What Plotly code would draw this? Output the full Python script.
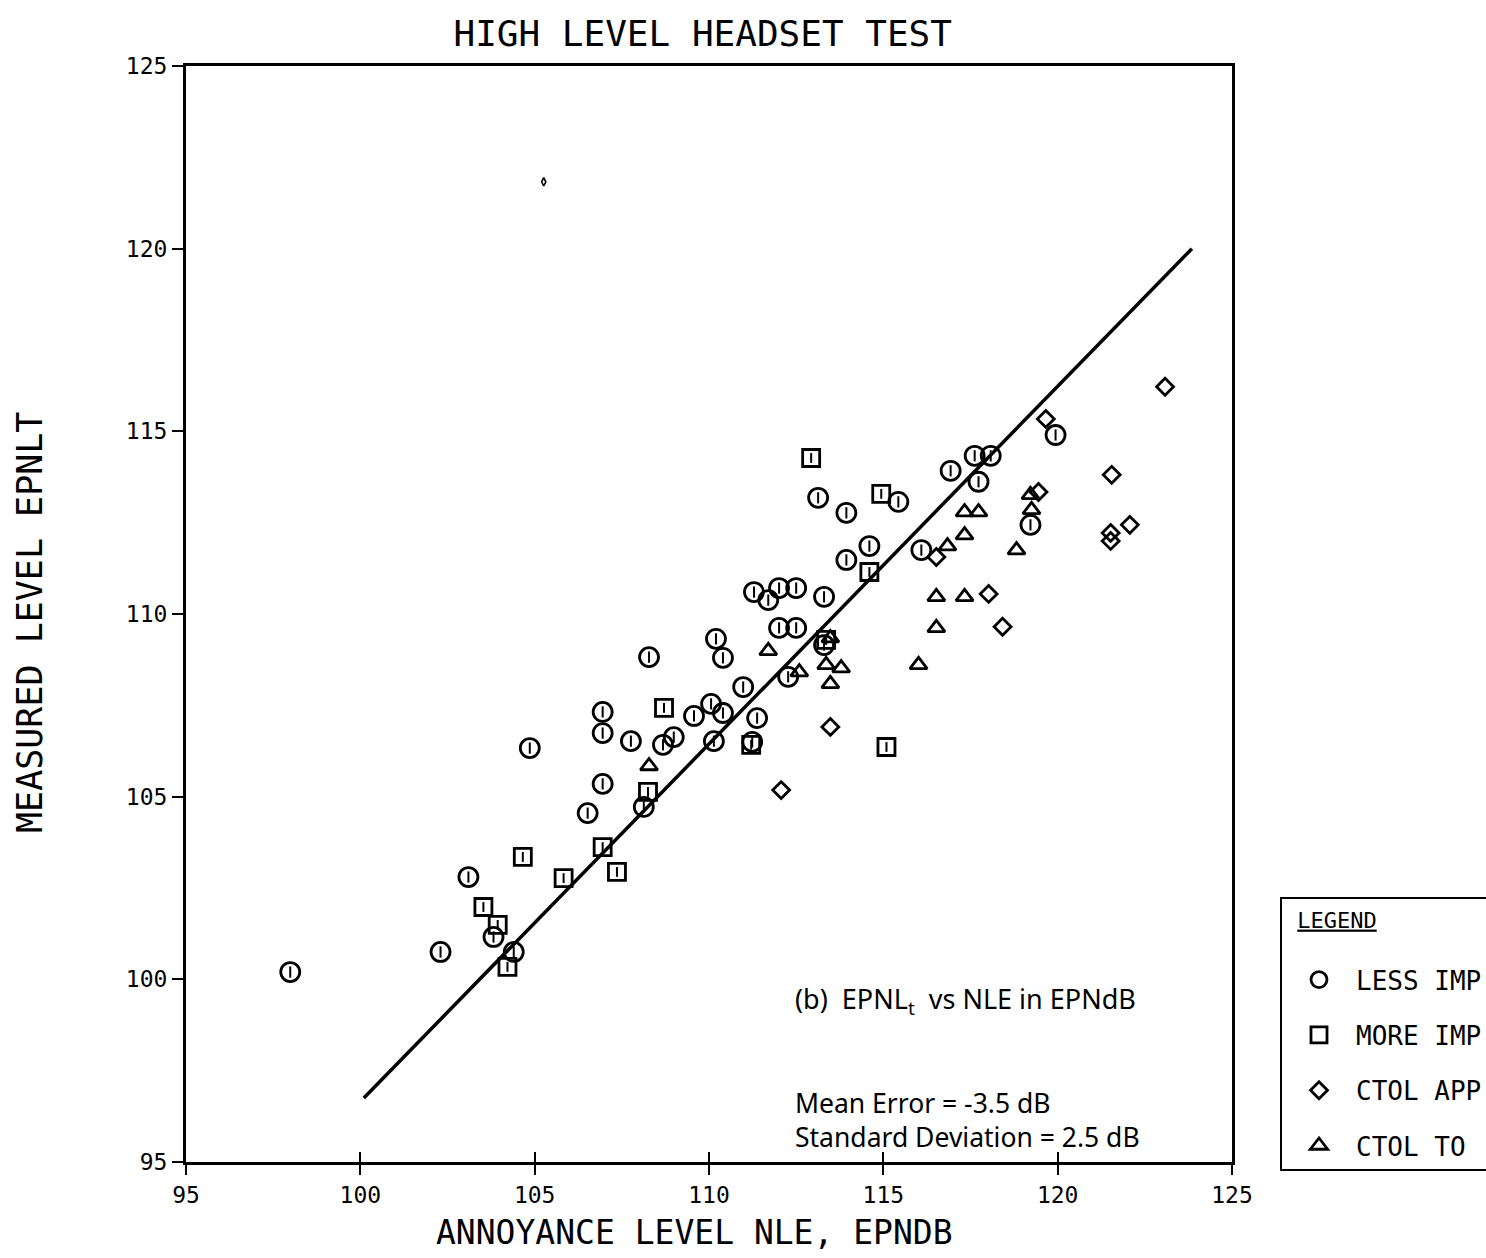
import plotly.graph_objects as go

# ---------------- data ----------------
less_x = [97.99, 102.30, 103.10, 103.82, 104.40, 104.86, 106.52, 106.95, 106.95, 106.95,
          107.76, 108.28, 108.13, 108.68, 108.99, 109.57, 110.06, 110.20, 110.40, 110.40,
          110.14, 110.98, 111.29, 111.38, 111.70, 112.01, 112.50, 112.01, 112.50, 112.27,
          111.24, 113.13, 113.94, 113.30, 113.30, 113.94, 114.60, 115.43, 116.09, 116.93,
          117.62, 118.08, 117.73, 119.22, 119.94]
less_y = [100.20, 100.75, 102.80, 101.16, 100.75, 106.33, 104.55, 105.35, 107.32, 106.74,
          106.52, 108.82, 104.72, 106.42, 106.63, 107.21, 107.54, 109.32, 108.80, 107.29,
          106.52, 108.00, 110.60, 107.15, 110.38, 110.71, 110.71, 109.62, 109.62, 108.28,
          106.50, 113.18, 112.77, 110.47, 109.15, 111.48, 111.86, 113.07, 111.75, 113.92,
          114.33, 114.33, 113.62, 112.44, 114.90]

more_x = [104.22, 103.53, 103.94, 104.66, 105.83, 106.95, 107.36, 108.25, 108.71, 111.21,
          112.93, 114.94, 114.60, 115.09, 113.36]
more_y = [100.34, 101.98, 101.49, 103.35, 102.77, 103.62, 102.94, 105.13, 107.43, 106.42,
          114.27, 113.29, 111.15, 106.36, 109.29]

app_x = [112.07, 113.48, 116.52, 118.02, 118.42, 119.45, 119.66, 121.55, 121.52, 121.52,
         122.07, 123.08]
app_y = [105.18, 106.91, 111.56, 110.55, 109.65, 113.34, 115.34, 113.81, 112.22, 112.00,
         112.44, 116.22]

to_x = [108.28, 111.70, 112.59, 113.48, 113.36, 113.79, 113.48, 116.01, 116.52, 116.52,
        117.33, 116.84, 117.33, 117.33, 117.73, 118.82, 119.22, 119.25]
to_y = [105.84, 108.99, 108.41, 109.34, 108.61, 108.52, 108.09, 108.61, 109.62, 110.47,
        110.47, 111.86, 112.16, 112.79, 112.79, 111.75, 113.26, 112.85]

fit_x = [100.1, 123.85]
fit_y = [96.75, 120.0]

stray_x = [105.26]
stray_y = [121.83]

x_ticks = [95, 100, 105, 110, 115, 120, 125]
y_ticks = [95, 100, 105, 110, 115, 120, 125]

series_names = ["LESS IMP", "MORE IMP", "CTOL APP", "CTOL TO"]

# ---------------- styling ----------------
PLOT_FONT = "DejaVu Sans Mono"
NOTE_FONT = "Noto Sans"
INK = "black"
NB = "\u00a0"
W, H = 1486, 1258

fig = go.Figure()

marker_specs = [
    (less_x, less_y, "circle-open", 19, series_names[0]),
    (more_x, more_y, "square-open", 17, series_names[1]),
    (app_x, app_y, "diamond-open", 13, series_names[2]),
    (to_x, to_y, "triangle-up-open", 15, series_names[3]),
]

for i, (xs, ys, sym, sz, name) in enumerate(marker_specs):
    fig.add_trace(go.Scatter(
        x=xs, y=ys, mode="markers", name=name,
        legendgroup=f"g{i}",
        marker=dict(symbol=sym, size=sz, color=INK, line=dict(color=INK, width=2.8)),
    ))

# small inner ticks of the plotter symbols
for xs, ys, sz in [(less_x, less_y, 8), (more_x, more_y, 7)]:
    fig.add_trace(go.Scatter(
        x=xs, y=ys, mode="markers", showlegend=False, hoverinfo="skip",
        marker=dict(symbol="line-ns-open", size=sz, color=INK, line=dict(color=INK, width=2)),
    ))

fig.add_trace(go.Scatter(
    x=stray_x, y=stray_y, mode="markers", showlegend=False,
    marker=dict(symbol="diamond-tall-open", size=6, color=INK, line=dict(color=INK, width=1.6)),
))

fig.add_trace(go.Scatter(
    x=fit_x, y=fit_y, mode="lines", showlegend=False,
    line=dict(color=INK, width=3.5), xaxis="x2",
))

fig.update_layout(
    width=W, height=H,
    margin=dict(l=186, r=254, t=66, b=96),
    paper_bgcolor="white", plot_bgcolor="white",
    font=dict(family=PLOT_FONT, color=INK),
    showlegend=True,
    title=dict(text="HIGH LEVEL HEADSET TEST", x=0.494, xref="paper", xanchor="center",
               y=1 - 33 / H, yref="container", yanchor="middle",
               font=dict(family=PLOT_FONT, size=36, color=INK)),
    xaxis=dict(range=[95, 125], tickvals=x_ticks, ticktext=[str(v) for v in x_ticks],
               showgrid=False, zeroline=False, showline=True, linecolor=INK, linewidth=3,
               mirror=True, ticks="outside", ticklen=10, tickwidth=2.2, tickcolor=INK,
               tickfont=dict(family=PLOT_FONT, size=23, color=INK)),
    xaxis2=dict(range=[95, 125], overlaying="x", anchor="y", tickvals=x_ticks,
                showticklabels=False, showgrid=False, zeroline=False, showline=False,
                ticks="inside", ticklen=10, tickwidth=2.2, tickcolor=INK),
    yaxis=dict(range=[95, 125], tickvals=y_ticks, ticktext=[str(v) for v in y_ticks],
               showgrid=False, zeroline=False, showline=True, linecolor=INK, linewidth=3,
               mirror=True, ticks="outside", ticklen=11, tickwidth=2.2, tickcolor=INK,
               tickfont=dict(family=PLOT_FONT, size=23, color=INK)),
    legend=dict(
        xref="container", yref="container",
        x=1280 / W, xanchor="left",
        y=1 - 897 / H, yanchor="top",
        bordercolor=INK, borderwidth=2, bgcolor="white",
        title=dict(text=NB + "<u>LEGEND</u><br> ", font=dict(family=PLOT_FONT, size=22, color=INK)),
        font=dict(family=PLOT_FONT, size=26, color=INK),
        traceorder="grouped", tracegroupgap=18.5, itemwidth=64,
    ),
)

# axis titles
fig.add_annotation(text="ANNOYANCE LEVEL NLE, EPNDB", xref="paper", yref="paper",
                   x=(694 - 186) / 1046, y=(1162 - 1232) / 1096, xanchor="center", yanchor="middle",
                   showarrow=False, font=dict(family=PLOT_FONT, size=33, color=INK))
fig.add_annotation(text="MEASURED LEVEL EPNLT", xref="paper", yref="paper", textangle=-90,
                   x=(30 - 186) / 1046, y=(1162 - 623) / 1096, xanchor="center", yanchor="middle",
                   showarrow=False, font=dict(family=PLOT_FONT, size=35, color=INK))

# notes inside the plot
fig.add_annotation(text="(b)" + NB + NB + "EPNL<sub>t</sub>" + NB + NB + "vs NLE in EPNdB",
                   xref="paper", yref="paper",
                   x=(793 - 186) / 1046, y=(1162 - 1000) / 1096,
                   xanchor="left", yanchor="middle", showarrow=False,
                   font=dict(family=NOTE_FONT, size=27, color=INK))
fig.add_annotation(text="Mean Error = -3.5 dB<br>Standard Deviation = 2.5 dB",
                   xref="paper", yref="paper", align="left",
                   x=(793 - 186) / 1046, y=(1162 - 1119.5) / 1096,
                   xanchor="left", yanchor="middle", showarrow=False,
                   font=dict(family=NOTE_FONT, size=26.5, color=INK))

fig.write_html("out.html")
